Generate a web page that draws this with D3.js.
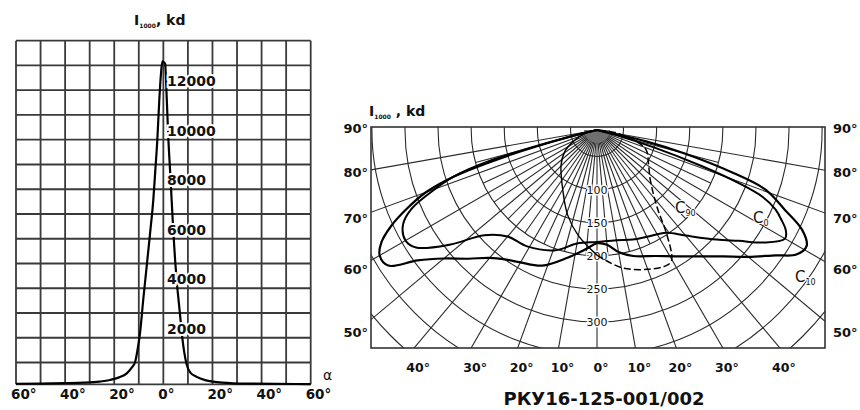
<!DOCTYPE html>
<html>
<head>
<meta charset="utf-8">
<script src="https://cdn.jsdelivr.net/npm/d3@7"></script>
<style>
  body { margin: 0; background: #fff; }
  text { font-family: "DejaVu Sans", Verdana, sans-serif; fill: #111; }
</style>
</head>
<body>
<div id="wrapper"></div>
<script>
// ---- left chart: I(alpha), kd
const alphaAngles = [-60, -50, -40, -32.6, -26, -21.7, -18, -14.9, -12.8, -11.5, -10.5, -9.5, -8.2, -6.8, -5.4, -4.1, -3.3, -2.46, -1.65, -1.0, -0.4,
    0.7, 1.4, 2.0, 2.7, 3.4, 4.1, 4.8, 5.5, 6.3, 7.0, 7.7, 8.5, 9.5, 11, 13.6, 17, 20.3, 24, 28.5, 36, 46, 60]
const alphaIntensity = [22, 30, 45, 65, 110, 174, 280, 444, 680, 900, 1400, 2072, 3405, 4750, 6110, 7443, 8600, 9867, 11482, 12500, 13050,
    12960, 11500, 10000, 8700, 7400, 6100, 5000, 4100, 3300, 2600, 1900, 1300, 800, 470, 300, 170, 105, 65, 40, 25, 15, 10]
const alphaTicks = [-60, -40, -20, 0, 20, 40, 60]
const intensityLabels = [2000, 4000, 6000, 8000, 10000, 12000]

// ---- right chart: polar curves, gamma in degrees, I1000 in kd
const gammaOuter = [-90, -76, -74, -72, -70, -67.5, -65, -62.5, -60, -57, -54, -50, -45, -40, -35, -30, -22, -13, -5, 0,
    5, 10, 16, 25, 32, 40, 45, 50, 55, 58, 61, 64, 67, 70.5, 72.5, 75, 77, 90]
const intensityOuter = [0, 55, 146, 237, 285, 321, 353, 377, 389, 386, 345, 312, 285, 262, 249, 241, 231, 208, 190, 181,
    184, 197, 208, 220, 235, 259, 280, 308, 340, 365, 372, 355, 318, 280, 226, 146, 86, 0]

const gammaInner = [-90, -78, -76, -74, -72, -70, -67, -64, -60, -57, -52, -47, -40, -31, -19, -10, 0,
    10, 18, 25, 34, 40, 47.5, 52, 56, 60, 62, 64, 66, 68, 69.5, 71, 73, 75, 77, 90]
const intensityInner = [0, 0, 70, 176, 237, 270, 314, 336, 344, 336, 291, 243, 220, 215, 202, 184, 179,
    179, 184, 188, 197, 218, 255, 282, 314, 338, 333, 320, 305, 280, 237, 176, 101, 40, 0, 0]

const gammaNarrow = [-90, -75, -65, -56, -45.6, -29, -19, -10, 0, 10, 20, 27, 29.5, 31, 34, 38, 47, 56, 68, 75, 82, 90]
const intensityNarrow = [0, 28, 48, 69, 86, 116, 146, 172, 199, 221, 234, 240, 238, 229, 197, 157, 120, 104, 90, 67, 37, 0]

const ringValues = [50, 100, 150, 200, 250, 300, 350, 400, 450, 500]
const ringLabels = [100, 150, 200, 250, 300]
const sideTicks = [90, 80, 70, 60, 50]
const bottomTicks = [-40, -30, -20, -10, 0, 10, 20, 30, 40]

const svg = d3.select("#wrapper")
    .append("svg")
    .attr("width", 860)
    .attr("height", 410)
    .style("background", "#fff")

// =========== left chart ===========
const xL = d3.scaleLinear().domain([-60, 60]).range([16, 310.7])
const yL = d3.scaleLinear().domain([0, 13880]).range([384.3, 40.7])

const left = svg.append("g")

// grid
left.selectAll(".vgrid")
    .data(d3.range(-60, 61, 10))
    .join("line")
    .attr("x1", d => xL(d)).attr("x2", d => xL(d))
    .attr("y1", yL(13880)).attr("y2", yL(0))
    .attr("stroke", "#3a3a3a")
    .attr("stroke-width", 1.8)

left.selectAll(".hgrid")
    .data(d3.range(14).map(i => 13880 - i * 1000).concat([0]))
    .join("line")
    .attr("x1", xL(-60)).attr("x2", xL(60))
    .attr("y1", d => yL(d)).attr("y2", d => yL(d))
    .attr("stroke", "#3a3a3a")
    .attr("stroke-width", 1.8)

// curve
const leftData = alphaAngles.map((a, i) => [a, alphaIntensity[i]])
left.append("path")
    .datum(leftData)
    .attr("d", d3.line().x(d => xL(d[0])).y(d => yL(d[1])).curve(d3.curveMonotoneX))
    .attr("fill", "none")
    .attr("stroke", "#000")
    .attr("stroke-width", 2.2)

// value labels
left.selectAll(".vlab")
    .data(intensityLabels)
    .join("text")
    .attr("x", 167)
    .attr("y", d => yL(d) - 1)
    .attr("font-size", 14)
    .attr("font-weight", "bold")
    .style("paint-order", "stroke")
    .attr("stroke", "#fff")
    .attr("stroke-width", 4)
    .text(d => d)

// angle labels
left.selectAll(".alab")
    .data(alphaTicks)
    .join("text")
    .attr("x", d => xL(d) - 5)
    .attr("y", 399)
    .attr("font-size", 13.5)
    .attr("font-weight", "bold")
    .text(d => Math.abs(d) + "°")

left.append("text")
    .attr("x", 323).attr("y", 380)
    .attr("font-size", 14)
    .text("α")

left.append("text")
    .attr("x", 134).attr("y", 25)
    .attr("font-size", 14)
    .attr("font-weight", "bold")
    .call(t => {
        t.append("tspan").text("I")
        t.append("tspan").attr("font-size", 6).attr("dy", 3).text("1000")
        t.append("tspan").attr("dy", -3).text(", kd")
    })

// =========== right chart ===========
const frame = { x0: 371, x1: 825, y0: 127, y1: 348 }
const P = { x: 597, y: 130 }
const rLin = d3.scaleLinear().domain([10, 300]).range([0, 192])
const rScale = v => Math.max(0, rLin(v))
const rad = g => g * Math.PI / 180

svg.append("defs").append("clipPath").attr("id", "frameClip")
    .append("rect")
    .attr("x", frame.x0).attr("y", frame.y0)
    .attr("width", frame.x1 - frame.x0).attr("height", frame.y1 - frame.y0)

const right = svg.append("g")
const grid = right.append("g").attr("clip-path", "url(#frameClip)")

// intensity rings
grid.selectAll(".ring")
    .data(ringValues)
    .join("circle")
    .attr("cx", P.x).attr("cy", P.y)
    .attr("r", d => rScale(d))
    .attr("fill", "none")
    .attr("stroke", "#2a2a2a")
    .attr("stroke-width", 1.1)

// gamma rays: every 10 deg to the frame, intermediate ones up to the 200 ring
const rays = d3.range(-80, 81, 5)
const rayLen = d => d % 10 === 0 ? 500 : rScale(200)
grid.selectAll(".ray")
    .data(rays)
    .join("line")
    .attr("x1", P.x).attr("y1", P.y)
    .attr("x2", d => P.x + rayLen(d) * Math.sin(rad(d)))
    .attr("y2", d => P.y + rayLen(d) * Math.cos(rad(d)))
    .attr("stroke", "#2a2a2a")
    .attr("stroke-width", 1.1)

grid.append("path")
    .attr("transform", `translate(${P.x},${P.y})`)
    .attr("d", d3.arc().innerRadius(0).outerRadius(13).startAngle(Math.PI / 2).endAngle(3 * Math.PI / 2)())
    .attr("fill", "#6f6f6f")

// ring labels
right.selectAll(".rlab")
    .data(ringLabels)
    .join("text")
    .attr("x", P.x)
    .attr("y", d => P.y + rScale(d) + 4)
    .attr("text-anchor", "middle")
    .attr("font-size", 11)
    .style("paint-order", "stroke")
    .attr("stroke", "#fff")
    .attr("stroke-width", 3)
    .text(d => d)

// light distribution curves
const radial = d3.lineRadial()
    .angle(d => Math.PI - rad(d[0]))
    .radius(d => rScale(d[1]))
    .curve(d3.curveCatmullRom.alpha(0.5))

const curves = right.append("g").attr("transform", `translate(${P.x},${P.y})`)

curves.append("path")
    .datum(gammaOuter.map((g, i) => [g, intensityOuter[i]]))
    .attr("d", radial)
    .attr("fill", "none").attr("stroke", "#000").attr("stroke-width", 2.2)

curves.append("path")
    .datum(gammaInner.map((g, i) => [g, intensityInner[i]]))
    .attr("d", radial)
    .attr("fill", "none").attr("stroke", "#000").attr("stroke-width", 2)

const narrow = gammaNarrow.map((g, i) => [g, intensityNarrow[i]])
curves.append("path")
    .datum(narrow.filter(d => d[0] <= 0))
    .attr("d", radial)
    .attr("fill", "none").attr("stroke", "#000").attr("stroke-width", 1.4)
curves.append("path")
    .datum(narrow.filter(d => d[0] >= 0))
    .attr("d", radial)
    .attr("fill", "none").attr("stroke", "#000").attr("stroke-width", 1.5)
    .attr("stroke-dasharray", "7,3")

// frame
right.append("rect")
    .attr("x", frame.x0).attr("y", frame.y0)
    .attr("width", frame.x1 - frame.x0).attr("height", frame.y1 - frame.y0)
    .attr("fill", "none")
    .attr("stroke", "#333")
    .attr("stroke-width", 1.6)

// side labels: on the extension of each gamma ray
const sideY = g => g === 90 ? P.y - 2 : P.y + (P.x - frame.x0 + 15) / Math.tan(rad(g))
right.selectAll(".slabL")
    .data(sideTicks)
    .join("text")
    .attr("x", frame.x0 - 3)
    .attr("y", d => sideY(d) + 5)
    .attr("text-anchor", "end")
    .attr("font-size", 13)
    .attr("font-weight", "bold")
    .text(d => d + "°")
right.selectAll(".slabR")
    .data(sideTicks)
    .join("text")
    .attr("x", frame.x1 + 8)
    .attr("y", d => sideY(d) + 5)
    .attr("font-size", 13)
    .attr("font-weight", "bold")
    .text(d => d + "°")

right.selectAll(".blab")
    .data(bottomTicks)
    .join("text")
    .attr("x", d => P.x + (frame.y1 - P.y) * Math.tan(rad(d)) + 4)
    .attr("y", 372)
    .attr("text-anchor", "middle")
    .attr("font-size", 12.5)
    .attr("font-weight", "bold")
    .text(d => Math.abs(d) + "°")

// curve names
const curveNames = [
    { x: 675, y: 213, sub: "90" },
    { x: 753, y: 223, sub: "0" },
    { x: 795, y: 282, sub: "10" },
]
right.selectAll(".cname")
    .data(curveNames)
    .join("text")
    .attr("x", d => d.x).attr("y", d => d.y)
    .attr("font-size", 15)
    .style("paint-order", "stroke")
    .attr("stroke", "#fff")
    .attr("stroke-width", 2)
    .each(function (d) {
        d3.select(this).append("tspan").text("C")
        d3.select(this).append("tspan").attr("font-size", 8).attr("dy", 3).text(d.sub)
    })

right.append("text")
    .attr("x", 369).attr("y", 116)
    .attr("font-size", 14)
    .attr("font-weight", "bold")
    .call(t => {
        t.append("tspan").text("I")
        t.append("tspan").attr("font-size", 6).attr("dy", 3).text("1000")
        t.append("tspan").attr("dy", -3).text(" , kd")
    })

right.append("text")
    .attr("x", 604).attr("y", 405)
    .attr("text-anchor", "middle")
    .attr("font-size", 18)
    .attr("font-weight", "bold")
    .text("РКУ16-125-001/002")
</script>
</body>
</html>
